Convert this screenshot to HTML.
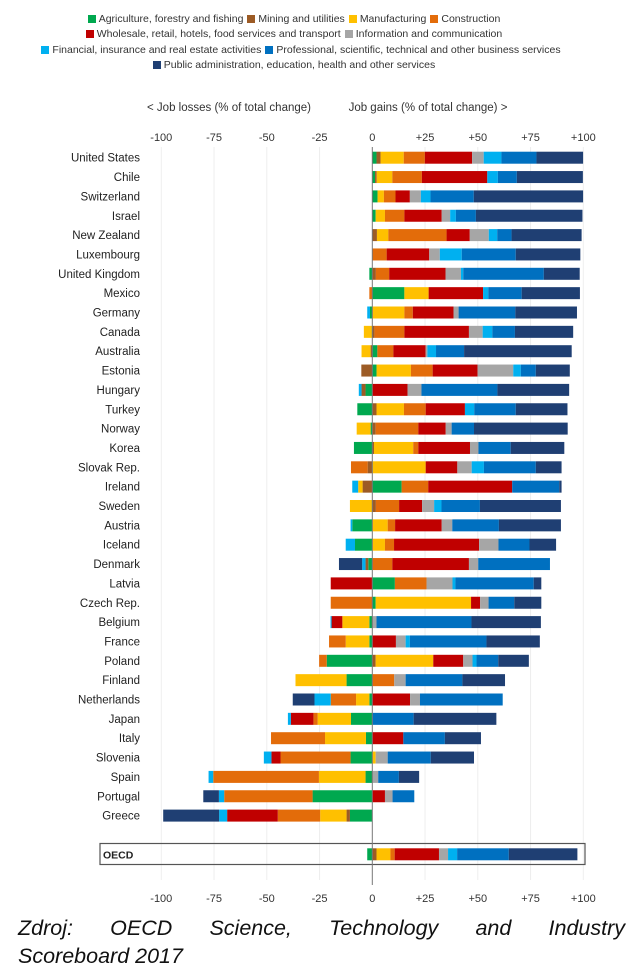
<!DOCTYPE html>
<html><head><meta charset="utf-8"><style>
html,body{margin:0;padding:0;background:#fff;}
body{width:640px;height:975px;position:relative;overflow:hidden;font-family:"Liberation Sans",Arial,sans-serif;}
.leg{position:absolute;left:0;width:584px;text-align:center;font-size:10.5px;color:#333;white-space:nowrap;}
.sw{display:inline-block;width:8px;height:8px;margin:0 3px 0 4px;vertical-align:-0.5px;}
.src{position:absolute;left:18px;width:607px;font-style:italic;font-size:21.5px;line-height:28px;color:#111;white-space:nowrap;}
</style></head><body>
<div class="leg" style="top:13px"><span class="sw" style="background:#00a84f"></span>Agriculture, forestry and fishing<span class="sw" style="background:#9c5b25"></span>Mining and utilities<span class="sw" style="background:#ffc000"></span>Manufacturing<span class="sw" style="background:#e36c0a"></span>Construction</div>
<div class="leg" style="top:28px"><span class="sw" style="background:#c00000"></span>Wholesale, retail, hotels, food services and transport<span class="sw" style="background:#a6a6a6"></span>Information and communication</div>
<div class="leg" style="top:44px;width:598px"><span class="sw" style="background:#00b0f0"></span>Financial, insurance and real estate activities<span class="sw" style="background:#0070c0"></span>Professional, scientific, technical and other business services</div>
<div class="leg" style="top:59px"><span class="sw" style="background:#1f3f73"></span>Public administration, education, health and other services</div>
<svg id="chart" width="640" height="975" style="position:absolute;left:0;top:0"></svg>
<div class="src" style="top:914px;text-align:justify;text-align-last:justify;">Zdroj: OECD Science, Technology and Industry</div>
<div class="src" style="top:942px;">Scoreboard 2017</div>
<script>
const countries=["United States","Chile","Switzerland","Israel","New Zealand","Luxembourg","United Kingdom","Mexico","Germany","Canada","Australia","Estonia","Hungary","Turkey","Norway","Korea","Slovak Rep.","Ireland","Sweden","Austria","Iceland","Denmark","Latvia","Czech Rep.","Belgium","France","Poland","Finland","Netherlands","Japan","Italy","Slovenia","Spain","Portugal","Greece","OECD"];
const agri=[2,1.3,2.5,1.6,0,0,-1.4,15.2,-1.1,0,2.4,2,-3.2,-7.1,-0.8,-8.7,0,13.9,0,-9.5,-8.2,-1.9,10.7,1.6,-1.4,-1.4,-21.6,-12.2,-1.4,-10.1,-3,-10.3,-3.2,-28.3,-10.6,-2.4];
const mining=[1.9,0.8,0,0,2.2,0,1.7,0,0,1,-0.8,-5.2,-1.9,2,1.6,0.8,-2.2,-4.6,1.7,0,0,-1.3,0,0,0,0,1.6,0,0,0,0,0,0,0,-1.6,2];
const manuf=[11,7.4,3,4.4,5.4,0,0,11.5,15.2,-4,-4.3,16.3,0,13,-6.6,18.6,25.3,-2.1,-10.6,7.3,6,0,0,45.2,-12.8,-11.2,27.3,-24.2,-6.3,-15.8,-19.4,1.6,-22.1,0,-12.5,6.6];
const constr=[10,14,5.5,9.2,27.6,6.8,6.3,-1.4,4,14.2,7.6,10.3,0,10.3,20.2,2.4,-7.9,12.6,11,3.5,4.3,9.5,15,-19.7,0,-7.9,-3.6,10.4,-12,-2,-25.6,-33.2,-50.1,-41.9,-20.1,2];
const trade=[22.4,31,6.8,17.7,11,20.2,26.7,25.8,19.3,30.6,15.3,21.3,16.7,18.6,13,24.5,15,39.8,10.9,22.1,40.3,36.3,-19.7,4.3,-5.1,11.2,14.2,0,17.9,-10.7,14.7,-4.3,0,6,-24,21];
const info=[5.5,0,5.2,4,9,5,7.3,0,2.4,6.5,0.8,16.9,6.6,0,2.8,4,6.8,0,5.7,5,9.2,4.4,12.3,4,2,4.6,4.4,5.4,4.7,0,0,5.7,2.8,3.6,0,4.3];
const fin=[8.4,5,4.6,2.7,4,10.4,1.1,2.5,-1.3,4.6,4.1,3.6,-1.3,4.4,0,0,5.8,-2.8,3.5,-0.8,-4.4,-1.6,1.4,0,-0.5,2,1.9,0,-7.7,-1.4,0,-3.6,-2.2,-2.5,-3.8,4.3];
const prof=[16.6,9,20.5,9.5,6.8,25.6,38.2,15.8,26.9,10.7,13.3,7.1,36,19.7,10.6,15.3,24.6,22.3,18.2,22.1,14.7,34,37.1,12.2,45,36.3,10.3,26.9,39.2,19.6,19.7,20.4,9.8,10.3,0,24.5];
const pub=[22.1,31.3,51.8,50.5,33.2,30.6,17,27.6,29.2,27.6,51,16.1,34,24.5,44.4,25.4,12.2,1.1,38.4,29.4,12.6,-11,3.6,12.8,32.9,25.3,14.5,20.2,-10.3,39.2,17.1,20.5,9.6,-7.4,-26.5,32.5];
const ticks=[-100,-75,-50,-25,0,25,50,75,100];
const tickLabels=["-100","-75","-50","-25","0","+25","+50","+75","+100"];
const sectorNames=["agriculture","mining","manufacturing","construction","trade","information","finance","professional","public"];

const series=[agri,mining,manuf,constr,trade,info,fin,prof,pub];
const colors=["#00a84f","#9c5b25","#ffc000","#e36c0a","#c00000","#a6a6a6","#00b0f0","#0070c0","#1f3f73"];
const NS="http://www.w3.org/2000/svg";
const svg=document.getElementById("chart");
const x=v=>372.3+v*2.11;
const y=i=>i<countries.length-1?157.7+i*19.35:854.3;
function mk(t,a){const e=document.createElementNS(NS,t);for(const k in a)e.setAttribute(k,a[k]);svg.appendChild(e);return e;}
ticks.forEach((t,j)=>{
  if(t!==0){const g=mk("line",{x1:x(t),x2:x(t),y1:147,y2:880,stroke:"#eeeeee","stroke-width":1});
  
  }
  [137,898].forEach(ty=>{const l=mk("text",{x:x(t),y:ty+4,"text-anchor":"middle","font-size":"11","fill":"#333"});l.textContent=tickLabels[j];
  
  });
});
const t1=mk("text",{x:229,y:111,"text-anchor":"middle","font-size":"11.5",fill:"#333"});t1.textContent="< Job losses (% of total change)";


const t2=mk("text",{x:428,y:111,"text-anchor":"middle","font-size":"11.5",fill:"#333"});t2.textContent="Job gains (% of total change) >";


const box=mk("rect",{x:100,y:843.5,width:485,height:21,fill:"none",stroke:"#555","stroke-width":1.2});


countries.forEach((c,i)=>{
  const cy=y(i);let pos=0,neg=0;
  series.forEach((s,k)=>{
    const v=s[i];if(!v)return;let x1,x2;
    if(v>0){x1=x(pos);pos+=v;x2=x(pos);}else{x2=x(neg);neg+=v;x1=x(neg);}
    const r=mk("rect",{x:x1,y:cy-6,width:x2-x1,height:12,fill:colors[k]});
    
    
  });
  const last=i===countries.length-1;
  const lb=mk("text",{x:last?103:140,y:cy+4,"text-anchor":last?"start":"end","font-size":last?"10.5":"11.5","font-weight":last?"bold":"normal",fill:"#222"});
  lb.textContent=c;
  
  
});
const z=mk("line",{x1:x(0),x2:x(0),y1:147,y2:885,stroke:"#777","stroke-width":1});


</script>
</body></html>
